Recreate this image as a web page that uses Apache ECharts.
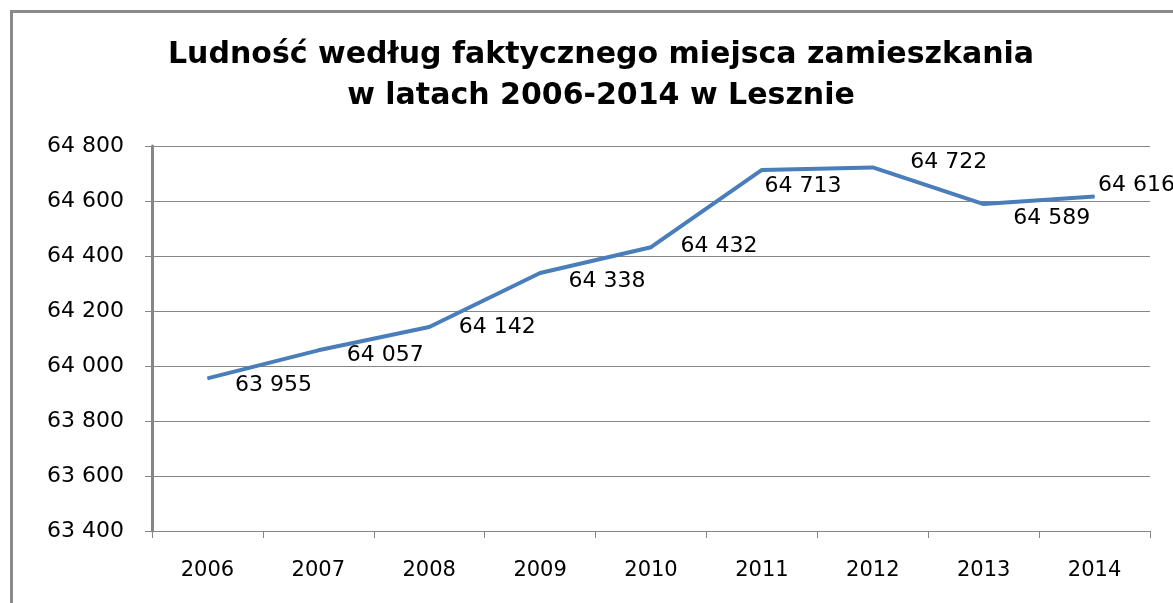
<!DOCTYPE html>
<html>
<head>
    <meta charset="utf-8">
    <title>Ludność Leszno</title>
    <style>
        html, body { margin: 0; padding: 0; background: #fff; }
        #chart { width: 1173px; height: 603px; }
    </style>
</head>
<body>
<div id="chart"></div>
<script src="https://cdn.jsdelivr.net/npm/echarts@6/dist/echarts.min.js"></script>
<script>
    var years = ['2006', '2007', '2008', '2009', '2010', '2011', '2012', '2013', '2014'];
    var ludnosc = [63955, 64057, 64142, 64338, 64432, 64713, 64722, 64589, 64616];
    // przesunięcia etykiet danych (jak w oryginale)
    var labelShift = [[66, 7], [67, 5], [68, 0], [67, 8], [68, -1], [41, 16], [76, -5], [68, 14], [42, -11]];

    function fmt(v) {
        var s = String(v);
        return s.slice(0, s.length - 3) + ' ' + s.slice(-3);
    }

    var seriesData = ludnosc.map(function (v, i) {
        return {
            value: v,
            label: { offset: labelShift[i] }
        };
    });

    var myChart = echarts.init(document.getElementById('chart'));
    var option = {
        animation: false,
        title: {
            text: 'Ludność według faktycznego miejsca zamieszkania\nw latach 2006-2014 w Lesznie',
            left: 596,
            textAlign: 'center',
            top: 30,
            textStyle: {
                fontFamily: 'DejaVu Sans',
                fontWeight: 'bold',
                fontSize: 30,
                lineHeight: 41,
                color: '#000'
            }
        },
        graphic: [{
            type: 'rect',
            shape: { x: 11.5, y: 11.5, width: 1200, height: 700 },
            style: { fill: 'none', stroke: '#8a8a8a', lineWidth: 3 },
            silent: true
        }],
        grid: { left: 152, right: 23, top: 146, bottom: 72 },
        xAxis: {
            type: 'category',
            data: years,
            boundaryGap: true,
            axisLine: { lineStyle: { color: '#868686', width: 1 } },
            axisTick: { show: true, length: 7, lineStyle: { color: '#868686' } },
            axisLabel: { color: '#000', fontFamily: 'DejaVu Sans', fontSize: 21, margin: 29 }
        },
        yAxis: {
            type: 'value',
            min: 63400,
            max: 64800,
            interval: 200,
            axisLine: { show: true, lineStyle: { color: '#868686', width: 3 } },
            axisTick: { show: true, length: 7, lineStyle: { color: '#868686' } },
            splitLine: { lineStyle: { color: '#868686', width: 1 } },
            axisLabel: {
                color: '#000', fontFamily: 'DejaVu Sans', fontSize: 22, margin: 28,
                formatter: fmt
            }
        },
        series: [{
            type: 'line',
            data: seriesData,
            symbol: 'circle',
            symbolSize: 1,
            showSymbol: true,
            itemStyle: { color: '#4a7ebb' },
            lineStyle: { color: '#4a7ebb', width: 4 },
            label: {
                show: true,
                position: 'inside',
                color: '#000',
                fontFamily: 'DejaVu Sans',
                fontSize: 22,
                formatter: function (p) { return fmt(p.value); }
            }
        }]
    };
    myChart.setOption(option);
</script>
</body>
</html>
